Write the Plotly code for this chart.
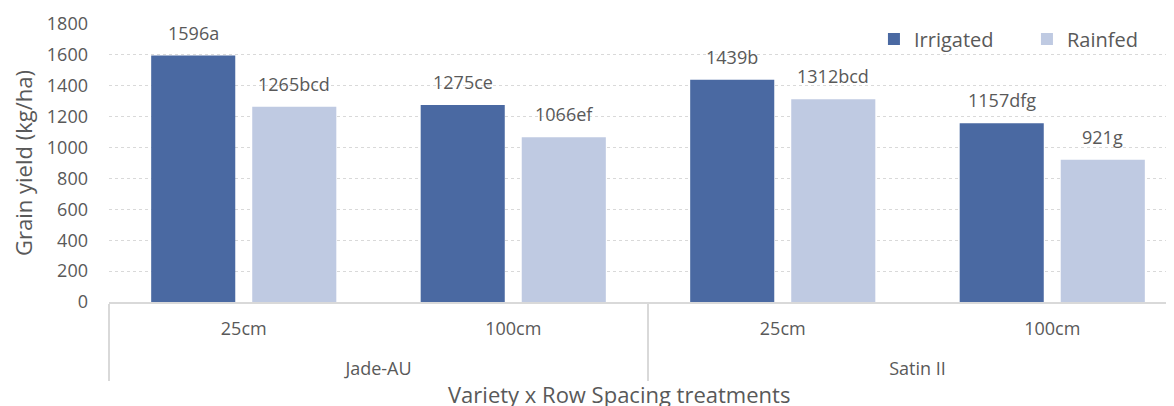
import plotly.graph_objects as go

varieties = ["Jade-AU", "Jade-AU", "Satin II", "Satin II"]
spacings = ["25cm", "100cm", "25cm", "100cm"]
irrigated = [1596, 1275, 1439, 1157]
rainfed = [1265, 1066, 1312, 921]
irrigated_letters = ["a", "ce", "b", "dfg"]
rainfed_letters = ["bcd", "ef", "bcd", "g"]
y_ticks = [0, 200, 400, 600, 800, 1000, 1200, 1400, 1600, 1800]

FONT = "Open Sans"
TXT = "#595959"
C_IRR = "#4a69a2"
C_RAIN = "#bfcae2"

BARGAP = 0.25
BARGROUPGAP = 0.168

# page has an 8px body margin; figure coords are page coords minus 8
W, H = 1179, 398
ML, MT, MB = 101, 16, 104
PH = H - MT - MB

# level-2 labels pushed down one line to mimic the reference spacing
var_labels = ["<br>" + v for v in varieties]

fig = go.Figure()
fig.add_trace(go.Bar(name="Irrigated", x=[var_labels, spacings], y=irrigated,
                     marker=dict(color=C_IRR, line=dict(width=0))))
fig.add_trace(go.Bar(name="Rainfed", x=[var_labels, spacings], y=rainfed,
                     marker=dict(color=C_RAIN, line=dict(width=0))))

slot = (1 - BARGAP) / 2
annotations = []
for i in range(len(spacings)):
    for val, let, off in ((irrigated[i], irrigated_letters[i], -slot / 2),
                          (rainfed[i], rainfed_letters[i], slot / 2)):
        annotations.append(dict(x=i + off, y=val, xref="x", yref="y",
                                text=f"{val}{let}", showarrow=False,
                                yanchor="middle", yshift=23,
                                font=dict(family=FONT, size=18, color=TXT)))

annotations.append(dict(text="Variety x Row Spacing treatments",
                        x=(611 - ML) / (W - ML), y=-(386 - (MT + PH)) / PH,
                        xref="paper", yref="paper", showarrow=False,
                        xanchor="center", yanchor="middle",
                        font=dict(family=FONT, size=22, color=TXT)))

fig.update_layout(
    width=W, height=H,
    margin=dict(l=ML, r=0, t=MT, b=MB, autoexpand=False),
    paper_bgcolor="white", plot_bgcolor="white",
    font=dict(family=FONT, color=TXT, size=18),
    barmode="group", bargap=BARGAP, bargroupgap=BARGROUPGAP,
    showlegend=True,
    legend=dict(orientation="h", x=0.7096, xanchor="left", y=0.946, yanchor="middle",
                font=dict(family=FONT, size=20, color=TXT),
                entrywidth=108, entrywidthmode="pixels",
                bgcolor="rgba(0,0,0,0)", itemclick=False),
    xaxis=dict(type="multicategory", range=[-0.5, 3.5],
               showline=True, linecolor="#d9d9d9", linewidth=1.5,
               showgrid=False, ticks="", showdividers=True,
               dividercolor="#d9d9d9", dividerwidth=1.5,
               ticklabelstandoff=10,
               tickfont=dict(family=FONT, size=18, color=TXT)),
    yaxis=dict(range=[0, 1800], tickvals=y_ticks, showgrid=True,
               gridcolor="#d9d9d9", griddash="dot", gridwidth=1,
               zeroline=False, showline=False, ticks="",
               ticklabelstandoff=20,
               tickfont=dict(family=FONT, size=18, color=TXT),
               title=dict(text="Grain yield (kg/ha)", standoff=13,
                          font=dict(family=FONT, size=22, color=TXT))),
    annotations=annotations,
)

fig.write_html("out.html")
